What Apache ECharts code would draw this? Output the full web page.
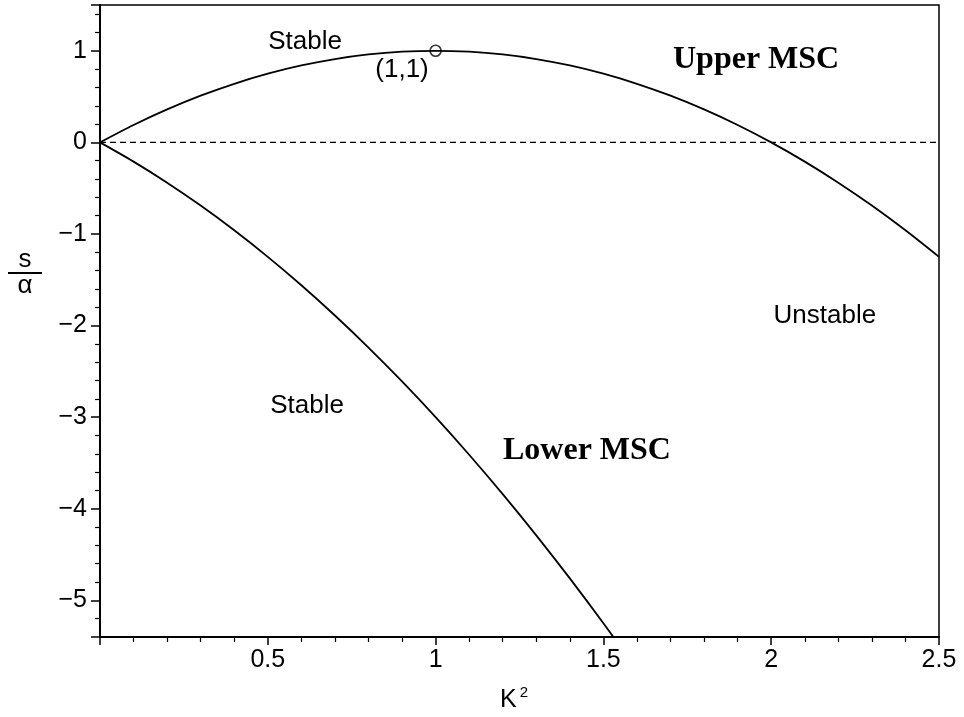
<!DOCTYPE html>
<html><head><meta charset="utf-8">
<script src="https://cdn.jsdelivr.net/npm/echarts@6/dist/echarts.min.js"></script>
<style>html,body{margin:0;padding:0;background:#fff}#c{width:964px;height:717px}</style>
</head><body><div id="c"></div>
<script>
// K^2 sample positions
const kSquared = [0,0.1,0.2,0.3,0.4,0.5,0.6,0.7,0.8,0.9,1.0,1.1,1.2,1.3,1.4,1.5,1.6,1.7,1.8,1.9,2.0,2.1,2.2,2.3,2.4,2.5];
// Upper MSC curve values s/alpha
const upperMSC = [0,0.19,0.36,0.51,0.64,0.75,0.84,0.91,0.96,0.99,1.0,0.99,0.96,0.91,0.84,0.75,0.64,0.51,0.36,0.19,0,-0.21,-0.44,-0.69,-0.96,-1.25];
// Lower MSC curve
const lowerK = [0,0.1,0.2,0.3,0.4,0.5,0.6,0.7,0.8,0.9,1.0,1.1,1.2,1.3,1.4,1.5,1.6];
const lowerMSC = [0,-0.21,-0.44,-0.69,-0.96,-1.25,-1.56,-1.89,-2.24,-2.61,-3.0,-3.41,-3.84,-4.29,-4.76,-5.25,-5.76];
// zero reference line
const zeroK = [0,2.5];
const zeroS = [0,0];
// marked point
const pointK = [1];
const pointS = [1];
// axis ticks
const xTickLabels = ['0.5','1','1.5','2','2.5'];
const yTickLabels = ['1','0','−1','−2','−3','−4','−5'];
// annotations
const annotationTexts = ['Stable','(1,1)','Upper MSC','Unstable','Stable','Lower MSC'];
const annotationK = [0.611,0.90,1.955,2.160,0.617,1.451];
const annotationS = [1.093,0.787,0.907,-1.893,-2.88,-3.363];

const sans = "'Liberation Sans', Arial, Helvetica, sans-serif";
const serif = "'Liberation Serif', 'Times New Roman', serif";
const annotationFonts = [
  {fontFamily: sans, fontSize: 26, fontWeight: 'normal'},
  {fontFamily: sans, fontSize: 26, fontWeight: 'normal'},
  {fontFamily: serif, fontSize: 32, fontWeight: 'bold'},
  {fontFamily: sans, fontSize: 26, fontWeight: 'normal'},
  {fontFamily: sans, fontSize: 26, fontWeight: 'normal'},
  {fontFamily: serif, fontSize: 32, fontWeight: 'bold'}
];

const chart = echarts.init(document.getElementById('c'), null, {renderer: 'canvas'});
const fmtNum = v => {
  const r = Math.round(v * 10) / 10;
  return (r < 0 ? '−' : '') + String(Math.abs(r));
};
const option = {
  backgroundColor: '#fff',
  animation: false,
  grid: {left: 100, right: 25, top: 5, bottom: 80, show: true, borderColor: '#000', borderWidth: 1.5, backgroundColor: 'transparent'},
  xAxis: {
    type: 'value', min: 0, max: 2.5, interval: 0.5,
    axisLine: {show: true, onZero: false, lineStyle: {color: '#000', width: 2}},
    axisTick: {show: true, inside: false, length: 8, lineStyle: {color: '#000', width: 1.5}},
    minorTick: {show: true, splitNumber: 5, length: 5, lineStyle: {color: '#000', width: 1.2}},
    splitLine: {show: false},
    axisLabel: {
      color: '#000', fontFamily: sans, fontSize: 25, margin: 11,
      formatter: v => { const s = fmtNum(v); return xTickLabels.indexOf(s) >= 0 ? s : ''; }
    }
  },
  yAxis: {
    type: 'value', min: -5.4, max: 1.5, splitNumber: 7,
    axisLine: {show: true, onZero: false, lineStyle: {color: '#000', width: 2}},
    axisTick: {show: true, inside: false, length: 9, lineStyle: {color: '#000', width: 1.5}},
    minorTick: {show: true, splitNumber: 5, length: 5, lineStyle: {color: '#000', width: 1.2}},
    splitLine: {show: false},
    axisLabel: {
      color: '#000', fontFamily: sans, fontSize: 25, margin: 13,
      showMinLabel: false, showMaxLabel: false,
      formatter: v => { const s = fmtNum(v); return yTickLabels.indexOf(s) >= 0 && Math.abs(v - Math.round(v)) < 1e-6 ? s : ''; }
    }
  },
  series: [
    {
      type: 'line', name: 'Upper MSC', data: kSquared.map((k, i) => [k, upperMSC[i]]),
      smooth: 0.3, symbol: 'none', clip: true,
      lineStyle: {color: '#000', width: 1.8}
    },
    {
      type: 'line', name: 'Lower MSC', data: lowerK.map((k, i) => [k, lowerMSC[i]]),
      smooth: 0.3, symbol: 'none', clip: true,
      lineStyle: {color: '#000', width: 1.8}
    },
    {
      type: 'line', name: 'zero', data: zeroK.map((k, i) => [k, zeroS[i]]),
      symbol: 'none', lineStyle: {color: '#000', width: 1.3, type: [6, 4]}
    },
    {
      type: 'scatter', name: 'point', data: pointK.map((k, i) => [k, pointS[i]]),
      symbol: 'circle', symbolSize: 11,
      itemStyle: {color: 'transparent', borderColor: '#000', borderWidth: 1.6}
    },
    {
      type: 'scatter', name: 'annotations', symbolSize: 0, silent: true,
      data: annotationTexts.map((t, i) => ({
        value: [annotationK[i], annotationS[i]],
        label: Object.assign({show: true, position: 'inside', color: '#000', textBorderWidth: 0, opacity: 1, formatter: t}, annotationFonts[i])
      }))
    }
  ],
  graphic: [
    {
      type: 'text',
      style: {
        text: '{k|K}{s|2}',
        rich: {
          k: {fontFamily: sans, fontSize: 25, fill: '#000', verticalAlign: 'bottom'},
          s: {fontFamily: sans, fontSize: 15, fill: '#000', verticalAlign: 'top', padding: [0,0,12,3]}
        },
        x: 514, y: 699, align: 'center', verticalAlign: 'middle'
      }
    },
    {
      type: 'group', x: 25, y: 272,
      children: [
        {type: 'text', style: {text: 's', x: 0, y: -12, align: 'center', verticalAlign: 'middle', fontFamily: sans, fontSize: 26, fill: '#000'}},
        {type: 'line', shape: {x1: -17, y1: 1, x2: 17, y2: 1}, style: {stroke: '#000', lineWidth: 1.8}},
        {type: 'text', style: {text: 'α', x: 0, y: 14, align: 'center', verticalAlign: 'middle', fontFamily: sans, fontSize: 26, fill: '#000'}}
      ]
    }
  ]
};
chart.setOption(option);
</script>
</body></html>
